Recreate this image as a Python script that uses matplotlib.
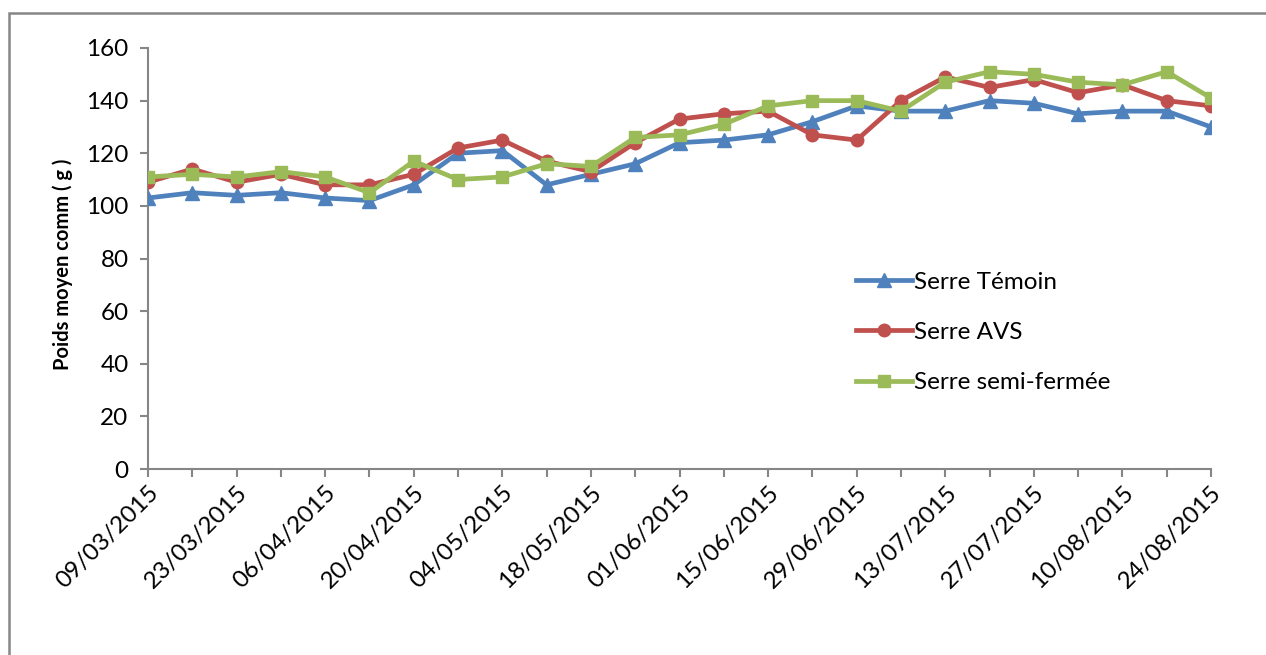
import matplotlib
matplotlib.use("Agg")
import matplotlib.pyplot as plt
from matplotlib.patches import Rectangle

dates = ["09/03/2015", "16/03/2015", "23/03/2015", "30/03/2015", "06/04/2015",
         "13/04/2015", "20/04/2015", "27/04/2015", "04/05/2015", "11/05/2015",
         "18/05/2015", "25/05/2015", "01/06/2015", "08/06/2015", "15/06/2015",
         "22/06/2015", "29/06/2015", "06/07/2015", "13/07/2015", "20/07/2015",
         "27/07/2015", "03/08/2015", "10/08/2015", "17/08/2015", "24/08/2015"]

temoin = [103, 105, 104, 105, 103, 102, 108, 120, 121, 108, 112, 116, 124,
          125, 127, 132, 138, 136, 136, 140, 139, 135, 136, 136, 130]
avs = [109, 114, 109, 112, 108, 108, 112, 122, 125, 117, 113, 124, 133,
       135, 136, 127, 125, 140, 149, 145, 148, 143, 146, 140, 138]
semi = [111, 112, 111, 113, 111, 105, 117, 110, 111, 116, 115, 126, 127,
        131, 138, 140, 140, 136, 147, 151, 150, 147, 146, 151, 141]

series_names = ["Serre Témoin", "Serre AVS", "Serre semi-fermée"]
yticks = [0, 20, 40, 60, 80, 100, 120, 140, 160]

plt.rcParams['font.family'] = ['Lato', 'DejaVu Sans']

W, H = 1266, 655
fig = plt.figure(figsize=(W / 100, H / 100), dpi=100)
ax = fig.add_axes([148 / W, 1 - 469 / H, (1211 - 148) / W, (469 - 48) / H])

x = list(range(len(dates)))
ax.plot(x, temoin, color="#4F81BD", lw=3.4, marker="^", ms=9.5, label=series_names[0], zorder=3)
ax.plot(x, avs, color="#C0504D", lw=3.4, marker="o", ms=9, label=series_names[1], zorder=4)
ax.plot(x, semi, color="#9BBB59", lw=3.4, marker="s", ms=9, label=series_names[2], zorder=5)

ax.set_xlim(0, len(dates) - 1)
ax.set_ylim(0, 160)
ax.set_yticks(yticks)
ax.set_yticklabels([str(v) for v in yticks], fontsize=17.5)
ax.set_xticks(x[::2])
ax.set_xticklabels(dates[::2], rotation=45, ha="right", va="top",
                   rotation_mode="anchor", fontsize=17.5)
ax.set_xticks(x[1::2], minor=True)

gray = "#868686"
for s in ["top", "right"]:
    ax.spines[s].set_visible(False)
for s in ["left", "bottom"]:
    ax.spines[s].set_color(gray)
    ax.spines[s].set_linewidth(1.5)
ax.tick_params(axis="both", which="both", color=gray, width=1.5, length=6, direction="out")
ax.tick_params(axis="x", which="major", pad=3)
ax.tick_params(axis="y", pad=8)

ax.set_ylabel("Poids moyen comm ( g )", fontsize=14.5, fontweight="bold")
ax.yaxis.set_label_coords((73 - 148) / (1211 - 148), (469 - 264) / (469 - 48))

leg = ax.legend(loc="upper left", bbox_to_anchor=((846 - 148) / (1211 - 148), (469 - 262) / (469 - 48)),
                frameon=False, fontsize=17.5, labelspacing=1.2, handlelength=2.3,
                handletextpad=0.1, borderaxespad=0)

fig.patches.append(Rectangle((9 / W, -0.1), 1.2, 1 - 13 / H + 0.1, transform=fig.transFigure,
                             fill=False, edgecolor=gray, lw=1.8))

fig.savefig("out.png", dpi=100)
